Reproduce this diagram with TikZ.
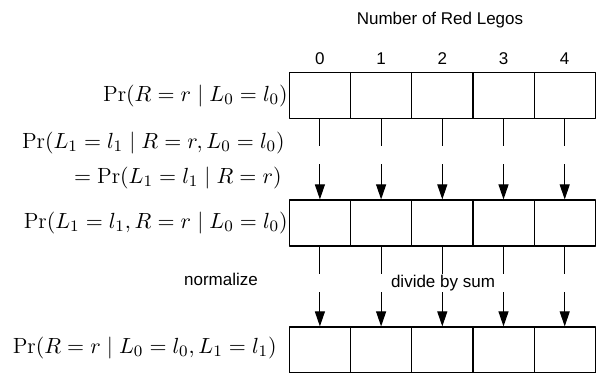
\documentclass[tikz,border=0pt]{standalone}
\usepackage{amsmath}
\usepackage{fontspec}
\setsansfont{Liberation Sans}
\usetikzlibrary{calc,arrows.meta,positioning}

\begin{document}
\begin{tikzpicture}[x=0.5pt, y=-0.5pt, line join=round,
    cell/.style={draw, line width=0.6pt, minimum width=30.6pt, minimum height=23pt, inner sep=0pt},
    lbl/.style={anchor=east, inner sep=0pt, font=\fontsize{11}{13}\selectfont},
    txt/.style={inner sep=0pt, font=\sffamily\fontsize{8.5}{10}\selectfont},
    flow/.style={line width=0.55pt},
    flowarr/.style={line width=0.55pt, -{Triangle[length=7.5pt,width=5pt]}}]
    \useasboundingbox (0,0) rectangle (598,373);

    % Рядки комірок (r = 0..4)
    \foreach \i in {0,...,4} {
        \node[cell] (p\i) at (319.9+61.2*\i, 95.7) {};
        \node[cell] (j\i) at (319.9+61.2*\i, 223) {};
        \node[cell] (q\i) at (319.9+61.2*\i, 350) {};
        \node[txt, above=3.5pt of p\i] (n\i) {\i};
    }

    % Заголовок
    \node[txt] (title) at (440,20) {Number of Red Legos};

    % Підписи рядків
    \node[lbl] (lp) at (288,96) {$\Pr(R = r \mid L_0 = l_0)$};
    \node[lbl] (lc1) at (285,143) {$\Pr(L_1 = l_1 \mid R = r, L_0 = l_0)$};
    \node[lbl] (lc2) at (282,178) {$= \Pr(L_1 = l_1 \mid R = r)$};
    \node[lbl] (lj) at (288,223) {$\Pr(L_1 = l_1, R = r \mid L_0 = l_0)$};
    \node[lbl] (lq) at (277,348) {$\Pr(R = r \mid L_0 = l_0, L_1 = l_1)$};

    % Перехід: множення
    \foreach \i in {0,...,4} {
        \coordinate (pe\i) at ($(p\i.south)+(0,27)$);
        \coordinate (js\i) at ($(j\i.north)+(0,-35)$);
        \draw[flow] (p\i.south) -- (pe\i);
        \draw[flowarr] (js\i) -- (j\i.north);
    }

    % Перехід: нормування
    \foreach \i in {0,...,4} {
        \coordinate (je\i) at ($(j\i.south)+(0,27)$);
        \coordinate (qs\i) at ($(q\i.north)+(0,-34)$);
        \draw[flow] (j\i.south) -- (je\i);
        \draw[flowarr] (qs\i) -- (q\i.north);
    }

    % Пояснення
    \node[txt] (norm) at (221,279) {normalize};
    \node[txt] (divide) at (443,283) {divide by sum};
\end{tikzpicture}
\end{document}
